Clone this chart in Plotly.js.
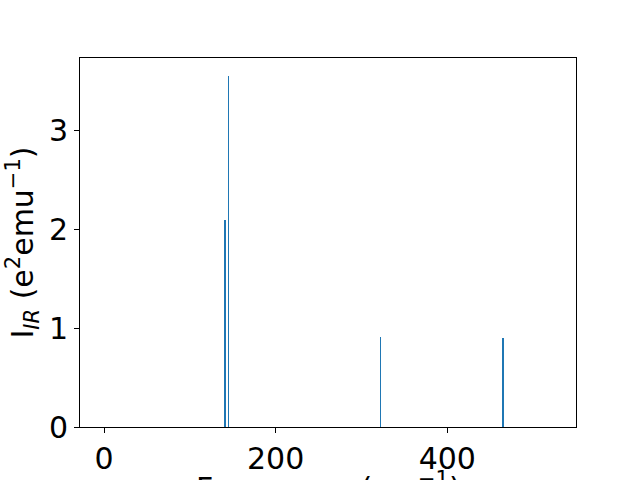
<!DOCTYPE html>
<html>
<head>
<meta charset="utf-8">
<script src="https://cdn.plot.ly/plotly-3.0.1.min.js"></script>
<style>html,body{margin:0;padding:0;background:#fff;}#chart{width:640px;height:480px;}</style>
</head>
<body>
<div id="chart"></div>
<script>
// Data
const frequencies = [141.3, 145.2, 321.7, 464.6];
const intensities = [2.09, 3.556, 0.906, 0.896];
const barWidths = [2.2, 1.1, 1.1, 2.2];
const xTicks = [0, 200, 400];
const yTicks = [0, 1, 2, 3];

const trace = {
  type: 'bar',
  x: frequencies,
  y: intensities,
  width: barWidths,
  marker: {color: '#1f77b4', line: {width: 0}},
  hoverinfo: 'x+y'
};

const fontFam = 'DejaVu Sans, sans-serif';
const layout = {
  width: 640, height: 480,
  margin: {l: 80, r: 64, t: 58, b: 53, pad: 0},
  paper_bgcolor: '#fff', plot_bgcolor: '#fff',
  showlegend: false,
  font: {family: fontFam, size: 30, color: '#000'},
  xaxis: {
    range: [-28, 550],
    tickvals: xTicks,
    ticktext: xTicks.map(String),
    ticks: 'outside', ticklen: 5, tickwidth: 1, tickcolor: '#000',
    showline: true, linecolor: '#000', linewidth: 1, mirror: true,
    showgrid: false, zeroline: false,
    tickfont: {family: fontFam, size: 30, color: '#000'},
    automargin: false
  },
  yaxis: {
    range: [0, 3.733],
    tickvals: yTicks,
    ticktext: yTicks.map(String),
    ticks: 'outside', ticklen: 5, tickwidth: 1, tickcolor: '#000',
    showline: true, linecolor: '#000', linewidth: 1, mirror: true,
    showgrid: false, zeroline: false,
    tickfont: {family: fontFam, size: 30, color: '#000'},
    title: {text: 'I<sub><i>IR</i></sub> (e<sup>2</sup>emu<sup>−1</sup>)', font: {family: fontFam, size: 30, color: '#000'}, standoff: 6},
    automargin: false
  },
  annotations: [{
    text: 'Frequency (cm<sup>−1</sup>)',
    xref: 'paper', yref: 'paper',
    x: 0.5, y: -0.104,
    xanchor: 'center', yanchor: 'top',
    showarrow: false,
    font: {family: fontFam, size: 30, color: '#000'}
  }],
  bargap: 0
};

Plotly.newPlot('chart', [trace], layout, {displayModeBar: false, staticPlot: true});
</script>
</body>
</html>
